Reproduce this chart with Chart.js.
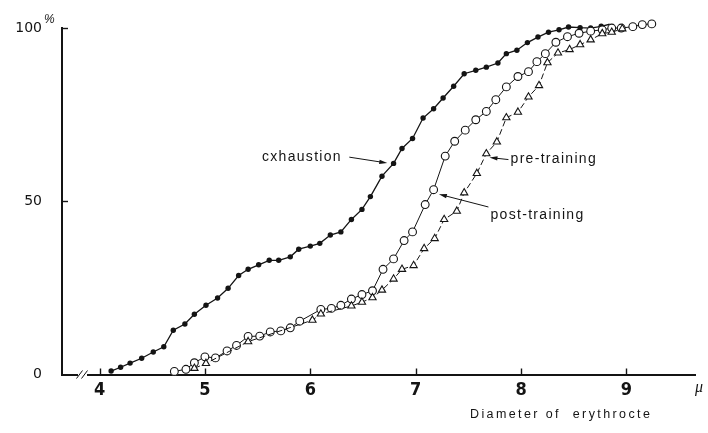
<!DOCTYPE html>
<html>
<head>
<meta charset="utf-8">
<script src="https://cdn.jsdelivr.net/npm/chart.js@4.4.0/dist/chart.umd.min.js"></script>
<style>
  html, body { margin: 0; padding: 0; background: #fff; }
</style>
</head>
<body>
<canvas id="myChart" width="708" height="433"></canvas>
<script>
// cumulative size distribution of erythrocytes (%)
let exhaustionX = [4.11,4.20,4.29,4.40,4.51,4.61,4.70,4.81,4.90,5.01,5.12,5.22,5.32,5.41,5.51,5.61,5.70,5.81,5.89,6.00,
                   6.09,6.19,6.29,6.39,6.49,6.57,6.68,6.79,6.87,6.97,7.07,7.17,7.26,7.36,7.46,7.57,7.67,7.78,7.86,7.96,
                   8.06,8.16,8.26,8.36,8.45,8.56,8.66,8.76,8.84];
let exhaustionY = [1.0,2.1,3.3,4.7,6.5,8.0,12.8,14.6,17.4,20.0,22.1,24.9,28.6,30.4,31.7,33.0,33.0,34.0,36.2,37.1,
                   37.9,40.3,41.2,44.8,47.7,51.4,57.3,61.0,65.3,68.2,74.1,76.8,79.9,83.3,86.9,87.9,88.8,90.0,92.7,93.7,
                   95.9,97.5,98.9,99.6,100.4,100.2,100.1,100.6,101.2];

let postX = [4.71,4.82,4.90,5.00,5.10,5.21,5.30,5.41,5.52,5.62,5.72,5.81,5.90,6.10,6.20,6.29,6.39,6.49,6.59,6.69,
             6.79,6.89,6.97,7.09,7.17,7.28,7.37,7.47,7.57,7.67,7.76,7.86,7.97,8.07,8.15,8.23,8.33,8.44,8.55,8.66,
             8.77,8.86,8.95,9.06,9.15,9.24];
let postY = [0.9,1.5,3.4,5.1,4.8,6.8,8.4,11.0,11.1,12.3,12.6,13.5,15.4,18.8,19.1,20.0,21.8,23.1,24.2,30.4,
             33.4,38.7,41.2,49.1,53.4,63.1,67.4,70.6,73.6,76.0,79.4,83.1,86.1,87.5,90.4,92.7,96.0,97.6,98.6,99.2,
             99.6,100.1,100.1,100.5,101.1,101.3];

let preX = [4.90,5.01,5.41,6.02,6.10,6.39,6.49,6.59,6.68,6.79,6.87,6.98,7.08,7.18,7.27,7.39,7.46,7.58,7.67,7.77,
            7.86,7.97,8.07,8.17,8.25,8.35,8.46,8.56,8.66,8.77,8.86,8.96];
let preY = [1.8,3.2,9.5,15.7,17.5,19.8,20.9,22.2,24.4,27.6,30.4,31.5,36.4,39.3,44.8,47.2,52.5,58.1,63.8,67.2,
            74.2,75.8,80.2,83.5,90.1,92.9,93.9,95.3,96.7,98.5,98.9,99.9];

let xTicks = [4, 5, 6, 7, 8, 9];
let yTicks = [0, 50, 100];

const ink = '#141414';

function pairs(xs, ys) {
    return xs.map((v, i) => ({x: v, y: ys[i]}));
}

// curve labels, placed in data units
const notes = [
    {text: 'cxhaustion', x: 6.30, y: 62.7, align: 'right', from: [6.37, 62.8], to: [6.73, 61.1]},
    {text: 'pre-training', x: 7.90, y: 62.1, align: 'left', from: [7.88, 62.1], to: [7.70, 62.7]},
    {text: 'post-training', x: 7.71, y: 46.0, align: 'left', from: [7.69, 48.4], to: [7.22, 52.1]}
];

function arrow(ctx, x1, y1, x2, y2) {
    const a = Math.atan2(y2 - y1, x2 - x1);
    ctx.beginPath();
    ctx.moveTo(x1, y1);
    ctx.lineTo(x2 - 5 * Math.cos(a), y2 - 5 * Math.sin(a));
    ctx.stroke();
    ctx.beginPath();
    ctx.moveTo(x2, y2);
    ctx.lineTo(x2 - 8 * Math.cos(a) + 2.2 * Math.sin(a), y2 - 8 * Math.sin(a) - 2.2 * Math.cos(a));
    ctx.lineTo(x2 - 8 * Math.cos(a) - 2.2 * Math.sin(a), y2 - 8 * Math.sin(a) + 2.2 * Math.cos(a));
    ctx.closePath();
    ctx.fill();
}

const decorations = {
    id: 'decorations',
    afterDraw(chart) {
        const {ctx, scales: {x, y}} = chart;
        ctx.save();
        ctx.strokeStyle = ink;
        ctx.fillStyle = ink;
        ctx.lineWidth = 1.4;

        // inward tick marks
        xTicks.forEach(v => {
            const px = Math.round(x.getPixelForValue(v)) + 0.5;
            ctx.beginPath();
            ctx.moveTo(px, y.bottom);
            ctx.lineTo(px, y.bottom - 6);
            ctx.stroke();
        });
        [50, 100].forEach(v => {
            const py = Math.round(y.getPixelForValue(v)) + 0.5;
            ctx.beginPath();
            ctx.moveTo(x.left, py);
            ctx.lineTo(x.left + 6, py);
            ctx.stroke();
        });

        // axis break
        const bx = x.left + 20;
        ctx.fillStyle = '#fff';
        ctx.fillRect(bx - 4, y.bottom - 3, 9, 6);
        ctx.fillStyle = ink;
        ctx.lineWidth = 1;
        [-2.5, 2.5].forEach(d => {
            ctx.beginPath();
            ctx.moveTo(bx + d - 3, y.bottom + 4);
            ctx.lineTo(bx + d + 3, y.bottom - 4);
            ctx.stroke();
        });

        // percent sign beside 100
        ctx.font = 'italic 12px "Liberation Sans"';
        ctx.textAlign = 'left';
        ctx.textBaseline = 'middle';
        ctx.fillText('%', x.left - 18, y.getPixelForValue(100) - 9);

        // unit and axis title
        ctx.font = 'italic 16px "Liberation Serif"';
        ctx.fillText('\u03bc', x.right, y.bottom + 13);
        ctx.font = '12.5px "Liberation Sans"';
        ctx.letterSpacing = '2.4px';
        ctx.textAlign = 'center';
        ctx.fillText('Diameter of  erythrocte', x.getPixelForValue(8.38), y.bottom + 40);

        // curve labels with arrows
        ctx.font = '14px "Liberation Sans"';
        ctx.letterSpacing = '1.3px';
        ctx.lineWidth = 1;
        notes.forEach(n => {
            ctx.textAlign = n.align;
            ctx.fillText(n.text, x.getPixelForValue(n.x), y.getPixelForValue(n.y));
            arrow(ctx, x.getPixelForValue(n.from[0]), y.getPixelForValue(n.from[1]),
                  x.getPixelForValue(n.to[0]), y.getPixelForValue(n.to[1]));
        });
        ctx.restore();
    }
};

let context = document.getElementById('myChart').getContext('2d');
let chart = new Chart(context, {
    type: 'scatter',
    data: {
        datasets: [
            {
                label: 'pre-training',
                data: pairs(preX, preY),
                showLine: true,
                borderColor: ink,
                borderWidth: 1,
                borderDash: [6, 3],
                pointStyle: 'triangle',
                pointRadius: 4.2,
                pointBorderWidth: 1.1,
                pointBackgroundColor: '#fff',
                pointBorderColor: ink,
                clip: false
            },
            {
                label: 'post-training',
                data: pairs(postX, postY),
                showLine: true,
                borderColor: ink,
                borderWidth: 1,
                pointStyle: 'circle',
                pointRadius: 3.9,
                pointBorderWidth: 1.1,
                pointBackgroundColor: '#fff',
                pointBorderColor: ink,
                clip: false
            },
            {
                label: 'exhaustion',
                data: pairs(exhaustionX, exhaustionY),
                showLine: true,
                borderColor: ink,
                borderWidth: 1.3,
                pointStyle: 'circle',
                pointRadius: 2.7,
                pointBorderWidth: 0,
                pointBackgroundColor: ink,
                clip: false
            }
        ]
    },
    options: {
        responsive: false,
        animation: false,
        events: [],
        layout: {padding: {top: 28, right: 13, left: 0, bottom: 0}},
        plugins: {legend: {display: false}, tooltip: {enabled: false}},
        scales: {
            x: {
                type: 'linear',
                min: 3.644,
                max: 9.65,
                afterBuildTicks: s => { s.ticks = xTicks.map(v => ({value: v})); },
                afterFit: s => { s.height = 58.5; },
                grid: {display: false, drawTicks: false},
                border: {display: true, color: ink, width: 2},
                ticks: {
                    color: ink,
                    padding: 5,
                    font: {family: '"Liberation Sans Narrow", "DejaVu Sans Condensed", sans-serif', size: 18, weight: 'bold'}
                }
            },
            y: {
                min: 0,
                max: 100,
                afterBuildTicks: s => { s.ticks = yTicks.map(v => ({value: v})); },
                afterFit: s => { s.width = 62; },
                grid: {display: false, drawTicks: false},
                border: {display: true, color: ink, width: 2},
                ticks: {
                    color: ink,
                    padding: 20,
                    font: {family: '"DejaVu Sans", sans-serif', size: 14}
                }
            }
        }
    },
    plugins: [decorations]
});
</script>
</body>
</html>
